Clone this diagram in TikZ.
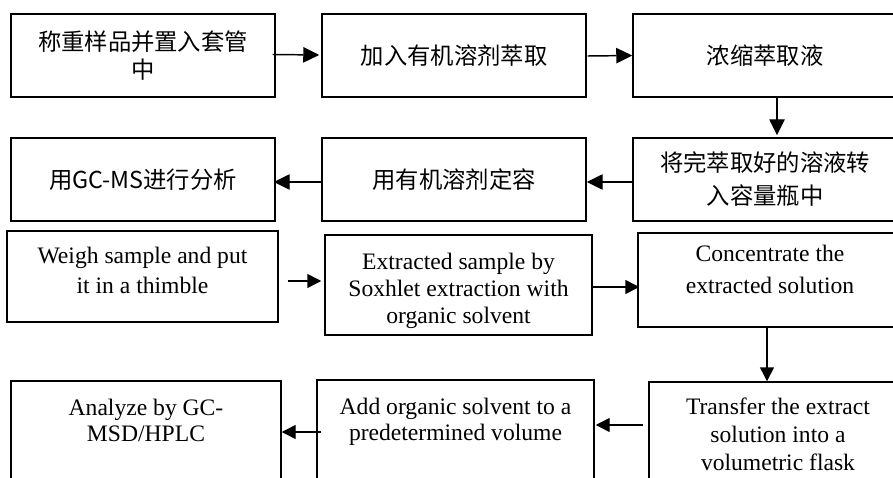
\documentclass[tikz,border=0pt]{standalone}
\usepackage{fontspec}
\setmainfont{Liberation Serif}
\newfontfamily\cjk{Noto Sans CJK SC}
\usetikzlibrary{arrows.meta,calc}
\newcommand{\entext}[5]{\parbox[c][#2][t]{#1}{\centering\fontsize{17.7pt}{#3}\selectfont\vspace*{#4}\strut #5\par}}
\tikzset{
  cbox/.style={draw, line width=1.1pt, rectangle, inner sep=0pt,
    minimum width=198pt, minimum height=62.25pt, align=center,
    font=\cjk\fontsize{17.5pt}{21pt}\selectfont},
  ebox/.style={draw, line width=1.1pt, rectangle, inner sep=0pt},
  arr/.style={line width=1.1pt, -{Triangle[length=12pt,width=11.5pt]}},
  earr/.style={line width=1.1pt, -{Triangle[length=10.5pt,width=10.5pt]}}
}
\begin{document}
\begin{tikzpicture}[x=0.75pt,y=-0.75pt]
\fill[white] (0,0) rectangle (893,478);
\clip (0,0) rectangle (893,478);
% Chinese flow
\node[cbox] (A) at (143,55.5) {称重样品并置入套管\\中};
\node[cbox] (B) at (454,55.5) {加入有机溶剂萃取};
\node[cbox] (C) at (765,55.5) {浓缩萃取液};
\node[cbox] (D) at (143,179.5) {用GC-MS进行分析};
\node[cbox] (E) at (454,179.5) {用有机溶剂定容};
\node[cbox, font=\cjk\fontsize{17.5pt}{24.75pt}\selectfont] (F) at (765,179.5) {将完萃取好的溶液转\\入容量瓶中};
\draw[arr] ($(A.east)+(-3,-1)$) -- ($(B.west)+(-2,-0.5)$);
\draw[arr] ($(B.east)+(1,0.5)$) -- (C.west);
\draw[arr] ($(C.south)+(12,0)$) -- ($(F.north)+(12,-2)$);
\draw[arr] ($(F.west)+(0,2.5)$) -- ($(E.east)+(0,2.5)$);
\draw[arr] ($(E.west)+(0,2.5)$) -- ($(D.east)+(-2,2.5)$);
% English flow
\node[ebox] (G) at (142.5,276.5) {\entext{203.25pt}{68.25pt}{22.5pt}{8.7pt}{Weigh sample and put\\it in a thimble}};
\node[ebox] (H) at (458.5,285) {\entext{200.25pt}{75pt}{20pt}{12.2pt}{Extracted sample by\\Soxhlet extraction with\\organic solvent}};
\node[ebox] (I) at (770,280) {\entext{198pt}{70.5pt}{24pt}{4.6pt}{Concentrate the\\extracted solution}};
\node[ebox] (J) at (146,435.5) {\entext{202.5pt}{81.75pt}{19.5pt}{12pt}{Analyze by GC-\\MSD/HPLC}};
\node[ebox] (K) at (455.5,435) {\entext{207.75pt}{82.5pt}{19.5pt}{12.5pt}{Add organic solvent to a\\predetermined volume}};
\node[ebox] (L) at (778,436) {\entext{193.5pt}{81pt}{21pt}{10pt}{Transfer the extract\\solution into a\\volumetric flask}};
\draw[earr] ($(G.east)+(9,4.5)$) -- ($(H.west)+(-3,-4)$);
\draw[earr] ($(H.east)+(0,2)$) -- ($(I.west)+(2,7)$);
\draw[earr] ($(I.south)+(-3,0)$) -- ($(L.north)+(-11,0)$);
\draw[earr] ($(L.west)+(-5,-11)$) -- ($(K.east)+(1,-10)$);
\draw[earr] ($(K.west)+(5,-3)$) -- ($(J.east)+(0,-3.5)$);
\end{tikzpicture}
\end{document}
